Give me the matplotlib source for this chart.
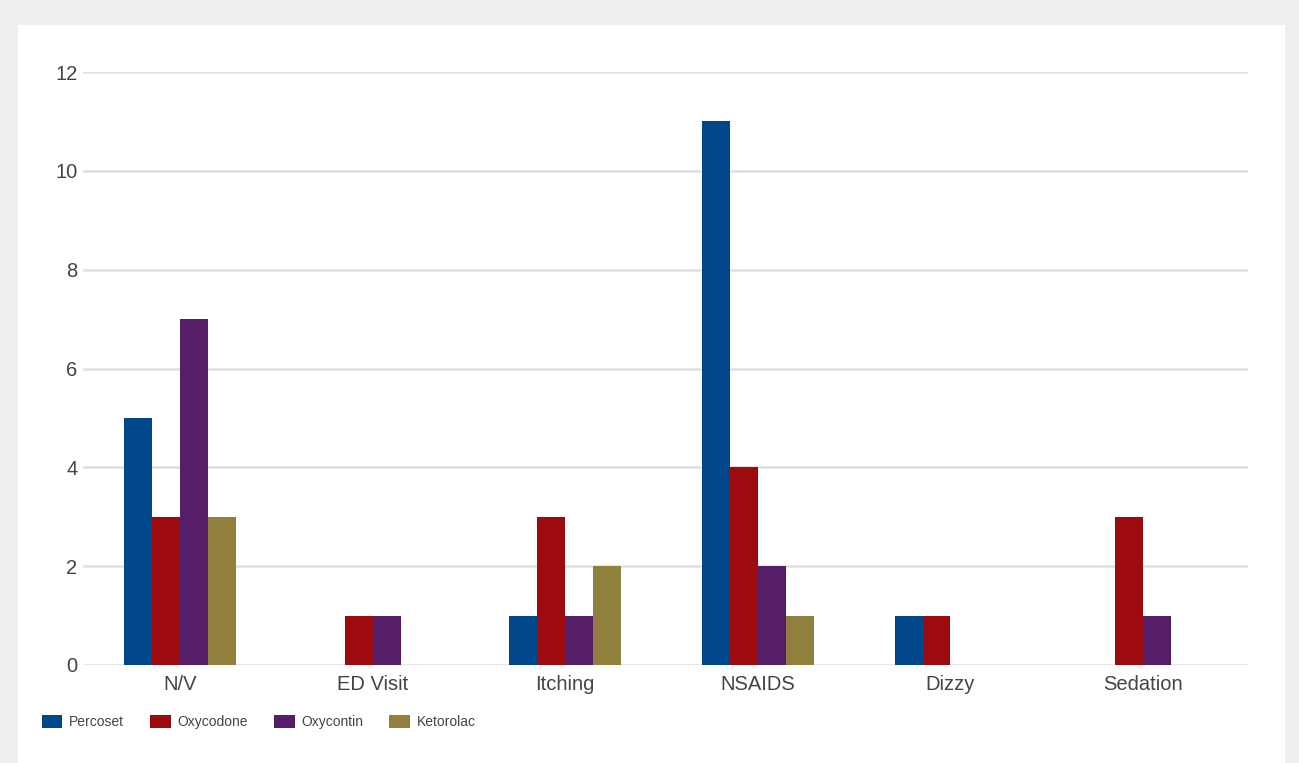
import numpy as np
import matplotlib.pyplot as plt
from matplotlib.patches import Rectangle

# data
categories = ["N/V", "ED Visit", "Itching", "NSAIDS", "Dizzy", "Sedation"]
percoset = [5, 0, 1, 11, 1, 0]
oxycodone = [3, 1, 3, 4, 1, 3]
oxycontin = [7, 1, 1, 2, 0, 1]
ketorolac = [3, 0, 2, 1, 0, 0]

series_names = ["Percoset", "Oxycodone", "Oxycontin", "Ketorolac"]
colors = ["#00468b", "#9e0b0f", "#561d68", "#917f3d"]

plt.rcParams['font.family'] = ['Liberation Sans', 'DejaVu Sans']

fig = plt.figure(figsize=(12.99, 7.63), dpi=100, facecolor="#efefef")
# white panel inside the grey frame
fig.patches.append(Rectangle((18 / 1299, 0), (1285 - 18) / 1299, 1 - 25 / 763,
                             transform=fig.transFigure, facecolor="white",
                             edgecolor="none", zorder=-5))

ax = fig.add_axes([83 / 1299, 1 - 665 / 763, (1248 - 83) / 1299, (665 - 72) / 763])
ax.set_facecolor("none")
ax.set_zorder(2)

x = np.arange(len(categories))
w = 0.145
allvals = [percoset, oxycodone, oxycontin, ketorolac]
handles = []
for i, (vals, name, c) in enumerate(zip(allvals, series_names, colors)):
    h = ax.bar(x + (i - 1.5) * w, vals, width=w, color=c, label=name, zorder=3)
    handles.append(h)

# gridlines run a little past the last category
ax.set_xlim(-0.504, 5.545)
ax.set_ylim(0, 12)
ax.set_yticks(range(0, 13, 2))
ax.grid(axis="y", color="#e0e0e0", linewidth=1.8, zorder=0)
ax.set_axisbelow(True)
for s in ax.spines.values():
    s.set_visible(False)
ax.set_xticks(x)
ax.set_xticklabels(categories)
ax.tick_params(axis="both", length=0, labelsize=14.5, colors="#444444")
ax.tick_params(axis="y", pad=4)
ax.tick_params(axis="x", pad=7)

leg = fig.legend(handles=handles, labels=series_names, loc="center left",
                 bbox_to_anchor=(29 / 1299, 1 - 722 / 763), ncol=4, frameon=False,
                 fontsize=10, handlelength=1.5, handleheight=1.05,
                 handletextpad=0.5, columnspacing=1.85, labelcolor="#444444")
leg.set_zorder(3)

fig.savefig("out.png", dpi=100, facecolor=fig.get_facecolor())
